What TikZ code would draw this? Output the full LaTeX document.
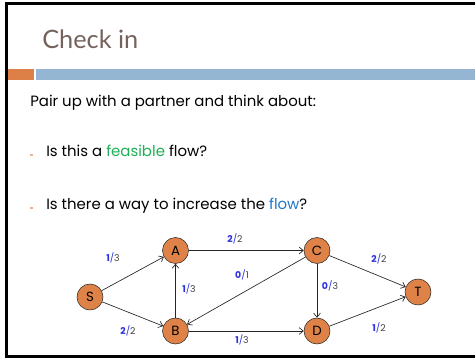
\documentclass[tikz,border=0pt]{standalone}
\usepackage{fontspec}
\setmainfont{Poppins}
\newfontfamily\titlefont{Lato}
\usetikzlibrary{arrows.meta}
\definecolor{titlegray}{HTML}{76625C}
\definecolor{barorange}{HTML}{DD8047}
\definecolor{barblue}{HTML}{94B6D2}
\definecolor{vorange}{HTML}{DE8247}
\definecolor{feasgreen}{HTML}{1EAF55}
\definecolor{flowblue}{HTML}{1F77C8}
\definecolor{labblue}{HTML}{2A2FE0}
\tikzset{
  vert/.style     = {circle, draw=black!85, fill=vorange, minimum size=19.5pt,
                     inner sep=0pt, font=\fontsize{10}{12}\selectfont},
  fedge/.style    = {-{Straight Barb[length=3pt,width=5pt]}, draw=black!85, line width=0.5pt},
  flab/.style     = {font=\fontsize{7}{8}\selectfont, inner sep=1pt},
  body/.style     = {anchor=base west, inner sep=0pt, font=\fontsize{11.2}{13}\selectfont},
  dashmark/.style = {draw=barorange!60, line width=0.8pt},
}
\newcommand{\fl}[2]{\textcolor{labblue}{\textbf{#1}/}\textcolor{black!75}{#2}}

\begin{document}
\begin{tikzpicture}[x=0.75pt, y=-0.75pt]
  \useasboundingbox (0,0) rectangle (475,359);
  % slide frame
  \draw[line width=2pt] (475,3.5) -| (6.5,356.5) -- (475,356.5);

  % title and bars
  \node[anchor=base west, inner sep=0pt, text=titlegray,
        font=\titlefont\fontsize{19}{22}\selectfont] (title) at (42,49) {Check in};
  \fill[barorange] (8,69) rectangle (34,80.5);
  \fill[barblue] (36,69) rectangle (475,80.5);

  % text
  \node[body] (intro) at (30,107) {Pair up with a partner and think about:};
  \draw[dashmark] (30,155) -- (32.5,155);
  \node[body] (q1) at (46,157) {Is this a \textcolor{feasgreen}{feasible} flow?};
  \draw[dashmark] (30,208) -- (32.5,208);
  \node[body] (q2) at (46,210) {Is there a way to increase the \textcolor{flowblue}{flow}?};

  % flow network
  \node[vert] (s) at (90,297) {S};
  \node[vert] (a) at (175.5,250.5) {A};
  \node[vert] (b) at (175.5,331) {B};
  \node[vert] (c) at (317,250.5) {C};
  \node[vert] (d) at (317,331) {D};
  \node[vert] (t) at (418,292) {T};

  \draw[fedge] (s) -- (a);
  \draw[fedge] (s) -- (b);
  \draw[fedge] (b) -- (a);
  \draw[fedge] (a) -- (c);
  \draw[fedge] (c) -- (b);
  \draw[fedge] (b) -- (d);
  \draw[fedge] (c) -- (d);
  \draw[fedge] (c) -- (t);
  \draw[fedge] (d) -- (t);

  % flow / capacity
  \node[flab] (lsa) at (113,258) {\fl{1}{3}};
  \node[flab] (lsb) at (128,331) {\fl{2}{2}};
  \node[flab] (lba) at (189,289) {\fl{1}{3}};
  \node[flab] (lac) at (235,239) {\fl{2}{2}};
  \node[flab] (lcb) at (242,275) {\fl{0}{1}};
  \node[flab] (lbd) at (242,340) {\fl{1}{3}};
  \node[flab] (lcd) at (330,286) {\fl{0}{3}};
  \node[flab] (lct) at (379,259) {\fl{2}{2}};
  \node[flab] (ldt) at (379,328) {\fl{1}{2}};
\end{tikzpicture}
\end{document}
